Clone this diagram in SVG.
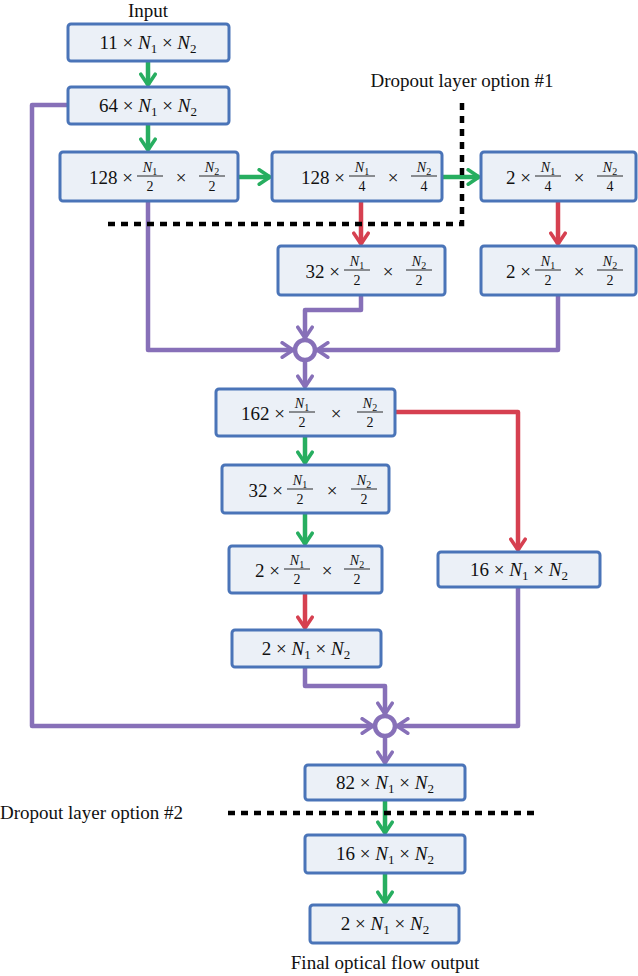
<svg xmlns="http://www.w3.org/2000/svg" width="638" height="976" viewBox="0 0 638 976">
<style>
.box{fill:#ebf0f7;stroke:#4a74b8;stroke-width:3}
text{font-family:"Liberation Serif","DejaVu Serif",serif;fill:#111}
.m{font-size:19px}
.mm{font-size:19px;text-anchor:middle}
.n{font-size:14px}
.c{text-anchor:middle}
.i{font-style:italic}
.fl{stroke:#111;stroke-width:0.9}
.g{fill:none;stroke:#27ae60;stroke-width:4.5;stroke-linejoin:round}
.r{fill:none;stroke:#d64050;stroke-width:4.5;stroke-linejoin:round}
.p{fill:none;stroke:#8770b8;stroke-width:4.5;stroke-linejoin:round}
.d{fill:none;stroke:#000;stroke-width:4.5;stroke-dasharray:7 6}
.lbl{font-size:19px}
</style>
<defs>
<marker id="ag" viewBox="0 0 10 10" refX="8" refY="5" markerWidth="4" markerHeight="4" orient="auto" markerUnits="strokeWidth"><path d="M2,1 L8,5 L2,9" fill="none" stroke="#27ae60" stroke-width="2" stroke-linecap="round" stroke-linejoin="round"/></marker>
<marker id="ar" viewBox="0 0 10 10" refX="8" refY="5" markerWidth="4" markerHeight="4" orient="auto" markerUnits="strokeWidth"><path d="M2,1 L8,5 L2,9" fill="none" stroke="#d64050" stroke-width="2" stroke-linecap="round" stroke-linejoin="round"/></marker>
<marker id="ap" viewBox="0 0 10 10" refX="8" refY="5" markerWidth="4" markerHeight="4" orient="auto" markerUnits="strokeWidth"><path d="M2,1 L8,5 L2,9" fill="none" stroke="#8770b8" stroke-width="2" stroke-linecap="round" stroke-linejoin="round"/></marker>
</defs>

<g id="connectors">
<path class="g" d="M148,61 V85" marker-end="url(#ag)"/>
<path class="g" d="M148,124 V150" marker-end="url(#ag)"/>
<path class="g" d="M238,177 H270" marker-end="url(#ag)"/>
<path class="g" d="M442,177 H479" marker-end="url(#ag)"/>
<path class="r" d="M361,201 V244" marker-end="url(#ar)"/>
<path class="r" d="M558,201 V244" marker-end="url(#ar)"/>
<path class="p" d="M148,201 V350 H293" marker-end="url(#ap)"/>
<path class="p" d="M361,295 V310 H305 V338" marker-end="url(#ap)"/>
<path class="p" d="M558,295 V350 H317" marker-end="url(#ap)"/>
<circle cx="305" cy="350" r="10" fill="#fff" stroke="#8770b8" stroke-width="4.5"/>
<path class="p" d="M305,360 V387" marker-end="url(#ap)"/>
<path class="g" d="M305,436 V463" marker-end="url(#ag)"/>
<path class="g" d="M305,513 V544" marker-end="url(#ag)"/>
<path class="r" d="M395,412 H518 V550" marker-end="url(#ar)"/>
<path class="r" d="M305,593 V628" marker-end="url(#ar)"/>
<path class="p" d="M68,105 H32 V726 H373" marker-end="url(#ap)"/>
<path class="p" d="M305,667 V686 H385 V714" marker-end="url(#ap)"/>
<path class="p" d="M518,587 V726 H397" marker-end="url(#ap)"/>
<circle cx="385" cy="726" r="10" fill="#fff" stroke="#8770b8" stroke-width="4.5"/>
<path class="p" d="M385,736 V763" marker-end="url(#ap)"/>
<path class="g" d="M385,800 V833" marker-end="url(#ag)"/>
<path class="g" d="M385,873 V903" marker-end="url(#ag)"/>
<path class="d" d="M108,224 H462 V97"/>
<path class="d" d="M228,813 H536"/>
</g>

<text class="lbl c" x="148" y="17">Input</text>
<text class="lbl c" x="462" y="87">Dropout layer option #1</text>
<text class="lbl" x="0" y="819">Dropout layer option #2</text>
<text class="lbl c" x="385" y="969">Final optical flow output</text>

<g id="nA"><rect class="box" x="68" y="24" width="161" height="37" rx="3"/><text class="mm" x="148" y="49">11 × <tspan class="i">N</tspan><tspan font-size="13" dy="4">1</tspan><tspan dy="-4"> × </tspan><tspan class="i">N</tspan><tspan font-size="13" dy="4">2</tspan></text></g>
<g id="nB"><rect class="box" x="68" y="87" width="161" height="37" rx="3"/><text class="mm" x="148" y="112">64 × <tspan class="i">N</tspan><tspan font-size="13" dy="4">1</tspan><tspan dy="-4"> × </tspan><tspan class="i">N</tspan><tspan font-size="13" dy="4">2</tspan></text></g>

<g id="nC"><rect class="box" x="60" y="152" width="178" height="49" rx="3"/>
<text class="m" x="133" y="184" text-anchor="end">128 ×</text>
<text class="n c" x="150" y="172"><tspan class="i">N</tspan><tspan font-size="10" dy="3">1</tspan></text><line class="fl" x1="137" y1="176" x2="163" y2="176"/><text class="n c" x="150" y="191">2</text>
<text class="mm" x="181" y="184">×</text>
<text class="n c" x="212" y="172"><tspan class="i">N</tspan><tspan font-size="10" dy="3">2</tspan></text><line class="fl" x1="199" y1="176" x2="225" y2="176"/><text class="n c" x="212" y="191">2</text></g>

<g id="nD"><rect class="box" x="272" y="152" width="170" height="49" rx="3"/>
<text class="m" x="345" y="184" text-anchor="end">128 ×</text>
<text class="n c" x="362" y="172"><tspan class="i">N</tspan><tspan font-size="10" dy="3">1</tspan></text><line class="fl" x1="349" y1="176" x2="375" y2="176"/><text class="n c" x="362" y="191">4</text>
<text class="mm" x="393" y="184">×</text>
<text class="n c" x="424" y="172"><tspan class="i">N</tspan><tspan font-size="10" dy="3">2</tspan></text><line class="fl" x1="411" y1="176" x2="437" y2="176"/><text class="n c" x="424" y="191">4</text></g>

<g id="nE"><rect class="box" x="481" y="152" width="155" height="49" rx="3"/>
<text class="m" x="531" y="184" text-anchor="end">2 ×</text>
<text class="n c" x="548" y="172"><tspan class="i">N</tspan><tspan font-size="10" dy="3">1</tspan></text><line class="fl" x1="535" y1="176" x2="561" y2="176"/><text class="n c" x="548" y="191">4</text>
<text class="mm" x="579" y="184">×</text>
<text class="n c" x="610" y="172"><tspan class="i">N</tspan><tspan font-size="10" dy="3">2</tspan></text><line class="fl" x1="597" y1="176" x2="623" y2="176"/><text class="n c" x="610" y="191">4</text></g>

<g id="nF"><rect class="box" x="278" y="246" width="167" height="49" rx="3"/>
<text class="m" x="340" y="278" text-anchor="end">32 ×</text>
<text class="n c" x="357" y="266"><tspan class="i">N</tspan><tspan font-size="10" dy="3">1</tspan></text><line class="fl" x1="344" y1="270" x2="370" y2="270"/><text class="n c" x="357" y="285">2</text>
<text class="mm" x="388" y="278">×</text>
<text class="n c" x="419" y="266"><tspan class="i">N</tspan><tspan font-size="10" dy="3">2</tspan></text><line class="fl" x1="406" y1="270" x2="432" y2="270"/><text class="n c" x="419" y="285">2</text></g>

<g id="nG"><rect class="box" x="481" y="246" width="155" height="49" rx="3"/>
<text class="m" x="531" y="278" text-anchor="end">2 ×</text>
<text class="n c" x="548" y="266"><tspan class="i">N</tspan><tspan font-size="10" dy="3">1</tspan></text><line class="fl" x1="535" y1="270" x2="561" y2="270"/><text class="n c" x="548" y="285">2</text>
<text class="mm" x="579" y="278">×</text>
<text class="n c" x="610" y="266"><tspan class="i">N</tspan><tspan font-size="10" dy="3">2</tspan></text><line class="fl" x1="597" y1="270" x2="623" y2="270"/><text class="n c" x="610" y="285">2</text></g>

<g id="nH"><rect class="box" x="216" y="389" width="179" height="47" rx="3"/>
<text class="m" x="285" y="420" text-anchor="end">162 ×</text>
<text class="n c" x="302" y="408"><tspan class="i">N</tspan><tspan font-size="10" dy="3">1</tspan></text><line class="fl" x1="289" y1="412" x2="315" y2="412"/><text class="n c" x="302" y="427">2</text>
<text class="mm" x="336" y="420">×</text>
<text class="n c" x="370" y="408"><tspan class="i">N</tspan><tspan font-size="10" dy="3">2</tspan></text><line class="fl" x1="357" y1="412" x2="383" y2="412"/><text class="n c" x="370" y="427">2</text></g>

<g id="nI"><rect class="box" x="222" y="465" width="167" height="48" rx="3"/>
<text class="m" x="283" y="497" text-anchor="end">32 ×</text>
<text class="n c" x="300" y="485"><tspan class="i">N</tspan><tspan font-size="10" dy="3">1</tspan></text><line class="fl" x1="287" y1="489" x2="313" y2="489"/><text class="n c" x="300" y="504">2</text>
<text class="mm" x="332" y="497">×</text>
<text class="n c" x="364" y="485"><tspan class="i">N</tspan><tspan font-size="10" dy="3">2</tspan></text><line class="fl" x1="351" y1="489" x2="377" y2="489"/><text class="n c" x="364" y="504">2</text></g>

<g id="nJ"><rect class="box" x="229" y="546" width="153" height="47" rx="3"/>
<text class="m" x="280" y="577" text-anchor="end">2 ×</text>
<text class="n c" x="297" y="565"><tspan class="i">N</tspan><tspan font-size="10" dy="3">1</tspan></text><line class="fl" x1="284" y1="569" x2="310" y2="569"/><text class="n c" x="297" y="584">2</text>
<text class="mm" x="327" y="577">×</text>
<text class="n c" x="357" y="565"><tspan class="i">N</tspan><tspan font-size="10" dy="3">2</tspan></text><line class="fl" x1="344" y1="569" x2="370" y2="569"/><text class="n c" x="357" y="584">2</text></g>

<g id="nK"><rect class="box" x="438" y="552" width="162" height="35" rx="3"/><text class="mm" x="519" y="576">16 × <tspan class="i">N</tspan><tspan font-size="13" dy="4">1</tspan><tspan dy="-4"> × </tspan><tspan class="i">N</tspan><tspan font-size="13" dy="4">2</tspan></text></g>
<g id="nL"><rect class="box" x="232" y="630" width="149" height="37" rx="3"/><text class="mm" x="306" y="655">2 × <tspan class="i">N</tspan><tspan font-size="13" dy="4">1</tspan><tspan dy="-4"> × </tspan><tspan class="i">N</tspan><tspan font-size="13" dy="4">2</tspan></text></g>
<g id="nM"><rect class="box" x="305" y="765" width="160" height="35" rx="3"/><text class="mm" x="385" y="789">82 × <tspan class="i">N</tspan><tspan font-size="13" dy="4">1</tspan><tspan dy="-4"> × </tspan><tspan class="i">N</tspan><tspan font-size="13" dy="4">2</tspan></text></g>
<g id="nN"><rect class="box" x="305" y="835" width="160" height="38" rx="3"/><text class="mm" x="385" y="860">16 × <tspan class="i">N</tspan><tspan font-size="13" dy="4">1</tspan><tspan dy="-4"> × </tspan><tspan class="i">N</tspan><tspan font-size="13" dy="4">2</tspan></text></g>
<g id="nO"><rect class="box" x="310" y="905" width="149" height="38" rx="3"/><text class="mm" x="385" y="930">2 × <tspan class="i">N</tspan><tspan font-size="13" dy="4">1</tspan><tspan dy="-4"> × </tspan><tspan class="i">N</tspan><tspan font-size="13" dy="4">2</tspan></text></g>
</svg>
